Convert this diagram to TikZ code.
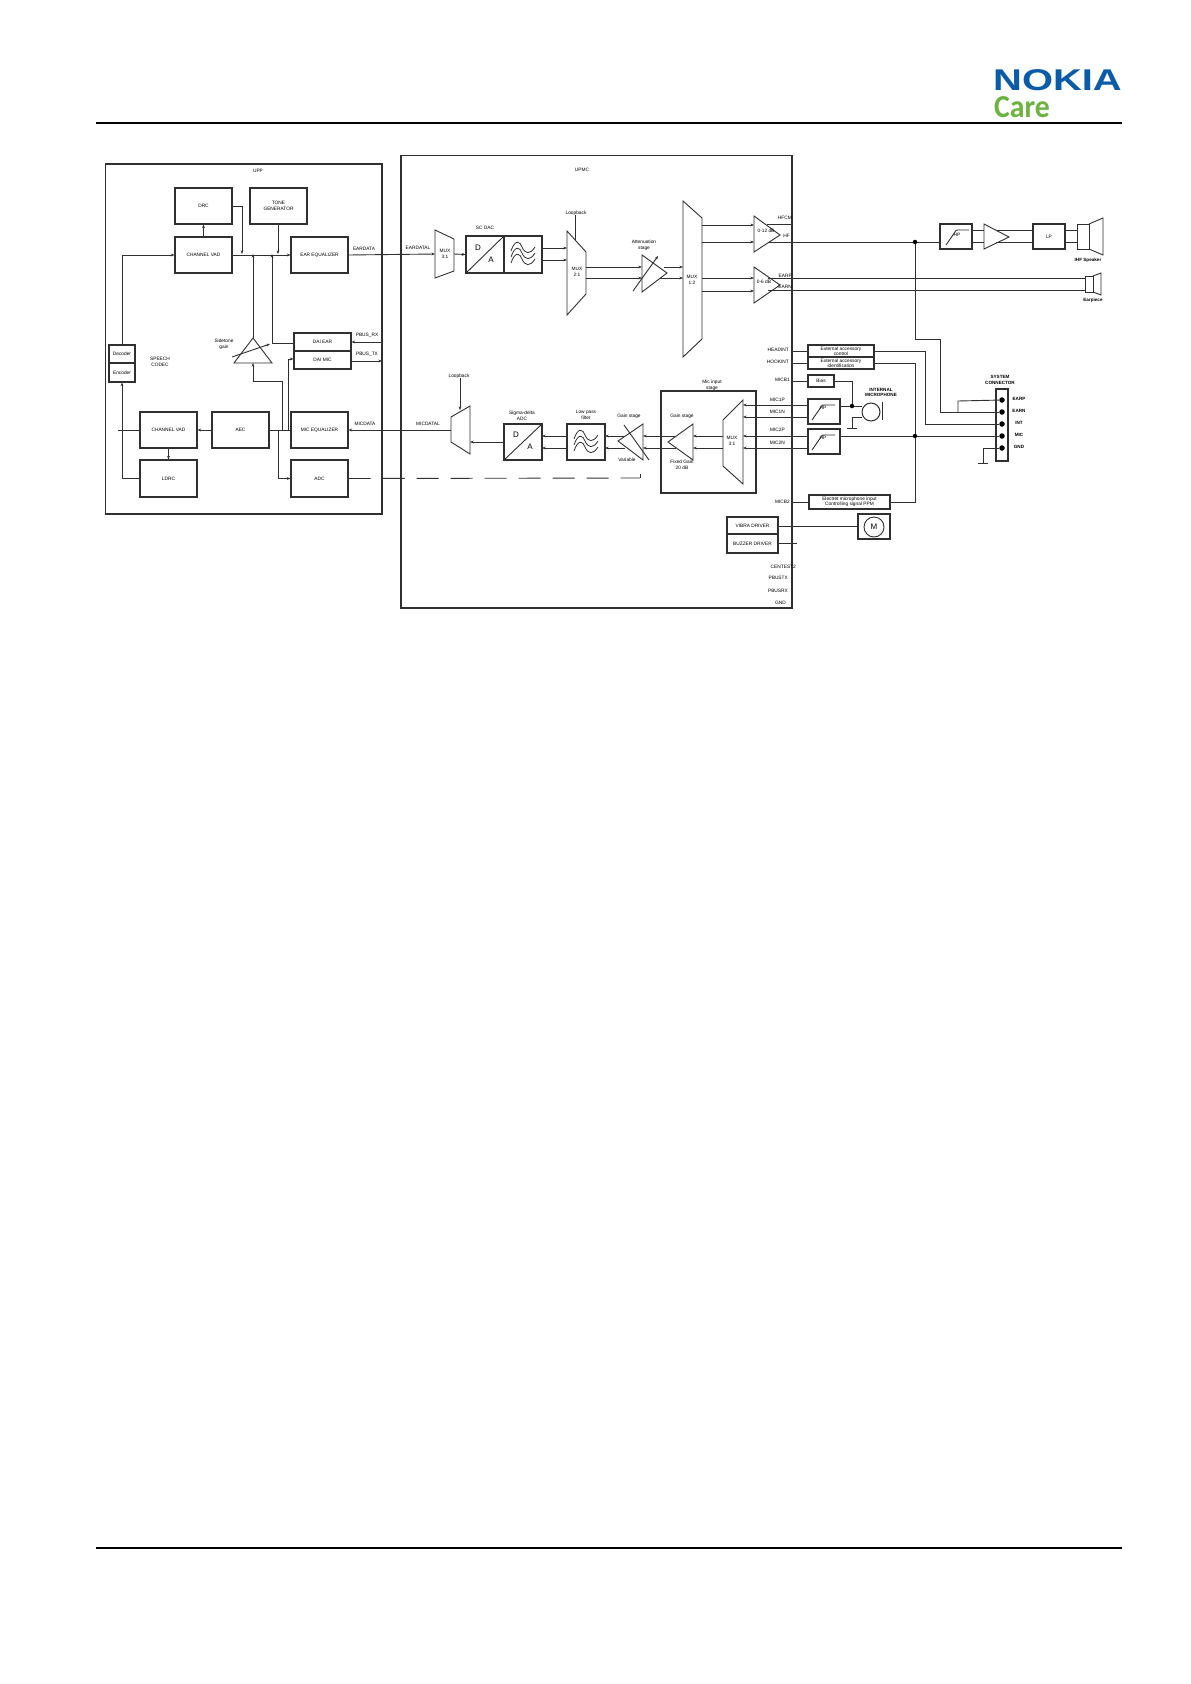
\documentclass[tikz,border=0pt]{standalone}
\usepackage{fontspec}
\setmainfont{Liberation Sans}
\newfontfamily\carefont{Carlito}[FakeStretch=0.93]
\newfontfamily\nokfont{Liberation Sans}[FakeStretch=1.33]
\usetikzlibrary{arrows.meta,calc}
\definecolor{nokiablue}{HTML}{0B5CA8}
\definecolor{caregreen}{HTML}{6DB33F}
\definecolor{ln}{HTML}{303030}
\tikzset{
  blk/.style={draw=ln,line width=1.1pt,inner sep=0pt,align=center,font=\fontsize{4.8}{5.6}\selectfont},
  shp/.style={draw=ln,line width=0.9pt},
  wire/.style={draw=ln,line width=0.9pt},
  arr/.style={wire,-{Stealth[length=3.6pt,width=2.8pt]}},
  lbl/.style={inner sep=0pt,align=center,font=\fontsize{4.8}{5.6}\selectfont},
  blbl/.style={inner sep=0pt,align=center,font=\fontsize{4.6}{5.6}\selectfont\bfseries},
  dot/.style={circle,fill=black,inner sep=0pt,minimum size=4.5pt},
  pdot/.style={circle,fill=black,inner sep=0pt,minimum size=5.5pt}
}
\newcommand\mybox[6]{%
  \pgfmathsetmacro\cxx{(#2+#4)/2}\pgfmathsetmacro\cyy{(#3+#5)/2}%
  \pgfmathsetmacro\wdd{#4-#2}\pgfmathsetmacro\htt{#5-#3}%
  \node[blk,minimum width=\wdd pt,minimum height=\htt pt] (#1) at (\cxx,\cyy) {#6};}
\newcommand\waves[2]{%
  \foreach \dy in {-6,0,6}{
    \draw[shp,line width=0.8pt] (#1-12,#2+\dy+3) .. controls (#1-8,#2+\dy-9) and (#1-3,#2+\dy-7) .. (#1-1,#2+\dy-1)
      .. controls (#1+2,#2+\dy+6) and (#1+7,#2+\dy+7) .. (#1+12,#2+\dy-1);}}
\newcommand\hpcurve[2]{%
  \draw[shp] (#1+3,#2+22) -- (#1+12,#2+9) .. controls (#1+13,#2+7) .. (#1+15,#2+7) -- (#1+26,#2+7);}
\begin{document}
\begin{tikzpicture}[x=1pt,y=-1pt]
\useasboundingbox (0,0) rectangle (1191,1684);
\fill[white] (0,0) rectangle (1191,1684);

% header / footer
\coordinate (hl) at (96,123); \coordinate (hr) at (1122,123);
\coordinate (fl) at (96,1548); \coordinate (fr) at (1122,1548);
\draw[black,line width=1.4pt] (hl) -- (hr);
\draw[black,line width=1.4pt] (fl) -- (fr);
\node[inner sep=0pt,anchor=west,text=nokiablue,font=\nokfont\fontsize{30}{30}\selectfont\bfseries] (nokia) at (993,80.5) {NOKIA};
\node[inner sep=0pt,anchor=west,text=caregreen,font=\carefont\fontsize{32}{32}\selectfont\bfseries] (care) at (994,107) {Care};

% ---------- frames
\mybox{upp}{105.5}{164}{382}{514}{}
\mybox{upmc}{401}{155.5}{792}{608}{}
\node[lbl] (upplbl) at (258,171) {UPP};
\node[lbl] (upmclbl) at (582,170) {UPMC};

% ---------- UPP blocks
\mybox{crc}{175}{188}{232}{224}{DRC}
\mybox{tone}{250}{188}{307}{224}{TONE\\GENERATOR}
\mybox{vadt}{175}{237}{232}{273}{CHANNEL VAD}
\mybox{eareq}{291}{237}{348}{273}{EAR EQUALIZER}
\mybox{daiear}{294}{333}{351}{351}{DAI EAR}
\mybox{daimic}{294}{351}{351}{369}{DAI MIC}
\mybox{dec}{109}{345}{135}{363}{Decoder}
\mybox{enc}{109}{363}{135}{382}{Encoder}
\node[lbl] (codec) at (160,362) {SPEECH\\CODEC};
\node[lbl] (stg) at (224,344) {Sidetone\\gain};
\mybox{vadb}{140}{412}{197}{448}{CHANNEL VAD}
\mybox{aec}{212}{412}{269}{448}{AEC}
\mybox{miceq}{291}{412}{348}{448}{MIC EQUALIZER}
\mybox{ldrc}{140}{460}{197}{497}{LDRC}
\mybox{adc}{291}{460}{348}{497}{ADC}

% sidetone triangle
\coordinate (sttop) at (253,338); \coordinate (stbot) at (253,363);
\draw[shp] (sttop) -- (272,363) -- (234,363) -- cycle;
\draw[arr] (232,357) -- (270,344);

% UPP wiring
\coordinate (bus1) at (242,254); \coordinate (bus2) at (253,254);
\coordinate (bus3) at (272,254); \coordinate (bus4) at (278,254);
\draw[arr] (dec.north) |- (vadt.west);
\draw[arr] (vadt.east) -- (eareq.west);
\draw[arr] (vadt.north) -- (crc.south);
\draw[arr] (crc.east) -| (bus1);
\draw[arr] (tone.south -| bus4) -- (bus4);
\draw[arr] (sttop) -- (bus2);
\draw[arr] ([yshift=-1pt]daiear.west) -| (bus3);
\coordinate (j1) at (282,430); \coordinate (j2) at (288,430); \coordinate (j3) at (278,430);
\draw[arr] (j1) |- (253,381) -- (stbot);
\draw[arr] (j2) |- ([yshift=1pt]daimic.west);
\draw[arr] (j3) |- (adc.west);
\draw[wire] (miceq.west) -- (aec.east);
\draw[arr] (aec.west) -- (vadb.east);
\draw[wire] (vadb.west) -- (118,430);
\draw[arr] (ldrc.west) -| (enc.south);
\draw[arr] (vadb.south) -- (ldrc.north);
\node[lbl] (pbrx) at (367,335) {PBUS\_RX};
\node[lbl] (pbtx) at (367,354) {PBUS\_TX};
\coordinate (pr) at (382,342); \coordinate (pt) at (382,361);
\draw[arr] (pr) -- (pr -| daiear.east);
\draw[arr] (pt -| daimic.east) -- (pt);

% EAR data and MIC data
\node[lbl] (eardata) at (364,249) {EARDATA};
\node[lbl] (eardatal) at (418,248) {EARDATAL};
\node[lbl] (micdata) at (365,424) {MICDATA};
\node[lbl] (micdatal) at (428,424) {MICDATAL};

% ---------- UPMC downlink
\coordinate (mux1in) at (435,254); \coordinate (mux1out) at (454,254);
\draw[shp] (435,230) -- (454,239) -- (454,271) -- (435,278) -- cycle;
\node[lbl] (mux1) at (445,254) {MUX\\3:1};
\draw[arr] (eareq.east) -- (mux1in);
\mybox{dac}{466}{236}{504}{273}{}
\mybox{filt1}{504}{236}{542}{273}{}
\draw[shp] (dac.south west) -- (dac.north east);
\node[inner sep=0pt,font=\fontsize{8}{8}\selectfont] (d1) at (478,248) {D};
\node[inner sep=0pt,font=\fontsize{8}{8}\selectfont] (a1) at (491,260) {A};
\waves{523}{254}
\node[lbl] (scdac) at (485,228) {SC DAC};
\draw[arr] (mux1out) -- (dac.west);
\coordinate (m2a) at (567,248); \coordinate (m2b) at (567,260);
\draw[shp] (567,231) -- (586,252) -- (586,294) -- (567,315) -- cycle;
\node[lbl] (mux2) at (577,272) {MUX\\2:1};
\draw[arr] (filt1.east |- m2a) -- (m2a);
\draw[arr] (filt1.east |- m2b) -- (m2b);
\node[lbl] (lb1) at (576,213) {Loopback};
\coordinate (lb1in) at (575,240);
\draw[wire] (lb1.south -| lb1in) -- (lb1in);
\coordinate (t1a) at (642,267); \coordinate (t1b) at (642,278);
\coordinate (m2o1) at (586,267); \coordinate (m2o2) at (586,278);
\draw[arr] (m2o1) -- (t1a);
\draw[arr] (m2o2) -- (t1b);
\draw[shp] (642,255) -- (667,273) -- (642,292) -- cycle;
\draw[arr] (633,291) -- (658,256);
\node[lbl] (att) at (644,245) {Attenuation\\stage};
\coordinate (m3a) at (683,267); \coordinate (m3b) at (683,278);
\draw[arr] (664,267) -- (m3a);
\draw[arr] (660,278) -- (m3b);
\draw[shp] (683,201) -- (702,218) -- (702,339) -- (683,357) -- cycle;
\node[lbl] (mux3) at (692,280) {MUX\\1:2};
\coordinate (a1a) at (754,225); \coordinate (a1b) at (754,242);
\coordinate (a2a) at (754,278); \coordinate (a2b) at (754,291);
\foreach \c in {a1a,a1b,a2a,a2b}{\draw[arr] (\c -| 702,0) -- (\c);}
\draw[shp] (754,216) -- (780,235) -- (754,252) -- cycle;
\draw[shp] (754,267) -- (780,285) -- (754,303) -- cycle;
\node[lbl] (g1) at (766,231) {0-12 dB};
\node[lbl] (g2) at (764,282) {0-6 dB};
\node[lbl,anchor=east] (hfcm) at (792,218) {HFCM};
\node[lbl,anchor=east] (hf) at (790,236) {HF};
\node[lbl,anchor=east] (earp) at (792,276) {EARP};
\node[lbl,anchor=east] (earn) at (792,287) {EARN};
\coordinate (hfcma) at (767,224); \coordinate (hfcmb) at (792,224);
\draw[wire] (hfcma) -- (hfcmb);

% outputs to speakers
\mybox{hp1}{940}{224}{972}{249}{}
\mybox{amp3l}{1033}{224}{1065}{249}{LP}
\hpcurve{943}{223}
\node[lbl] (hplbl) at (957,235) {HP};
\coordinate (hf0) at (768,242); \coordinate (jhf) at (915,242);
\draw[wire] (hf0) -- (hp1.west |- hf0);
\node[dot] (jhfd) at (jhf) {};
\coordinate (amp3in1) at (984,230); \coordinate (amp3in2) at (984,242);
\draw[wire] (972,230) -- (amp3in1);
\draw[wire] (972,242) -- (amp3in2);
\draw[shp] (984,224) -- (1009,237) -- (984,249) -- cycle;
\coordinate (lpin1) at (1033,230); \coordinate (lpin2) at (1033,242);
\draw[wire] (996,230) -- (lpin1);
\draw[wire] (996,242) -- (lpin2);
\draw[shp] (1077,224) rectangle (1089,249);
\draw[shp] (1089,224) -- (1103,218) -- (1103,255) -- (1089,249);
\draw[wire] (1065,230) -- (1077,230);
\draw[wire] (1065,242) -- (1077,242);
\node[blbl] (ihf) at (1088,260) {IHF Speaker};
\draw[shp] (1085,276) rectangle (1093,292);
\draw[shp] (1093,276) -- (1101,273) -- (1101,295) -- (1093,292);
\coordinate (eo1) at (768,278); \coordinate (eo2) at (768,290);
\draw[wire] (eo1) -- (1085,278);
\draw[wire] (eo2) -- (1085,290);
\node[blbl] (earpc) at (1093,300) {Earpiece};

% ---------- UPMC uplink
\coordinate (mbl) at (451,430);
\draw[shp] (470,406) -- (451,417) -- (451,442) -- (470,454) -- cycle;
\draw[arr] (mbl) -- (miceq.east);
\node[lbl] (lb2) at (459,376) {Loopback};
\coordinate (lb2in) at (460,410);
\draw[arr] (lb2.south -| lb2in) -- (lb2in);
\mybox{adcb}{504}{424}{542}{460}{}
\draw[shp] (adcb.south west) -- (adcb.north east);
\node[inner sep=0pt,font=\fontsize{8}{8}\selectfont] (d2) at (516,435) {D};
\node[inner sep=0pt,font=\fontsize{8}{8}\selectfont] (a2) at (530,447) {A};
\node[lbl] (sdl) at (522,416) {Sigma-delta\\ADC};
\draw[arr] (504,442) -- (470,442);
\mybox{filt2}{567}{424}{605}{460}{}
\waves{586}{442}
\node[lbl] (lpl) at (586,415) {Low pass\\filter};
\draw[arr] (filt2.west |- 0,436) -- (542,436);
\draw[arr] (filt2.west |- 0,448) -- (542,448);
\draw[shp] (643,424) -- (618,441) -- (643,460) -- cycle;
\draw[shp] (624,425) -- (649,460);
\node[lbl] (gs1) at (629,416) {Gain stage};
\node[lbl] (varl) at (627,460) {Variable};
\draw[arr] (625,436) -- (605,436);
\draw[arr] (625,448) -- (605,448);
\mybox{micst}{661}{391}{756}{493}{}
\node[lbl] (msl) at (712,385) {Mic input\\stage};
\node[lbl] (gs2) at (682,416) {Gain stage};
\node[lbl] (fxl) at (682,465) {Fixed Gain\\20 dB};
\draw[shp] (693,424) -- (668,442) -- (693,460) -- cycle;
\draw[arr] (676,436) -- (643,436);
\draw[arr] (676,448) -- (643,448);
\draw[shp] (743,400) -- (723,420) -- (723,466) -- (743,484) -- cycle;
\node[lbl] (mux4) at (732,441) {MUX\\3:1};
\draw[arr] (723,436) -- (693,436);
\draw[arr] (723,448) -- (693,448);
% dashed
\coordinate (dash1) at (640,478); \coordinate (dash2) at (640,474);
\draw[wire,dash pattern=on 22pt off 12pt] (adc.east) -- (dash1);
\draw[wire] (dash1) -- (dash2);

% right-hand column
\mybox{acc1}{808}{345}{874}{357}{External accessory\\[-1pt]control}
\mybox{acc2}{808}{357}{874}{369}{External accessory\\[-1pt]identification}
\mybox{bias}{808}{375}{834}{387}{Bias}
\mybox{amp1}{808}{399}{840}{424}{}
\mybox{amp2}{808}{429}{840}{454}{}
\hpcurve{809}{398}
\hpcurve{809}{428}
\node[lbl] (hpa) at (823,408) {HP};
\node[lbl] (hpb) at (823,438) {HP};
\mybox{ext}{809}{495}{890}{509}{Electret microphone input\\[-1pt]Controlling signal PPM}
\mybox{vib}{727}{517}{778}{534}{VIBRA DRIVER}
\mybox{buz}{727}{534}{778}{553}{BUZZER DRIVER}
\mybox{motbx}{858}{514}{890}{539}{}
\node[draw=ln,circle,line width=0.9pt,minimum size=20pt,inner sep=0pt,font=\fontsize{8}{8}\selectfont] (mot) at (874,527) {M};
\node[lbl,anchor=east] (hdl) at (789,350) {HEADINT};
\node[lbl,anchor=east] (hkl) at (789,362) {HOOKINT};
\node[lbl,anchor=east] (mb1) at (790,380) {MICB1};
\node[lbl,anchor=east] (mb2) at (790,502) {MICB2};
\node[lbl,anchor=east] (m1p) at (785,400) {MIC1P};
\node[lbl,anchor=east] (m1n) at (785,412) {MIC1N};
\node[lbl,anchor=east] (m2p) at (785,430) {MIC2P};
\node[lbl,anchor=east] (m2n) at (785,443) {MIC2N};
\node[lbl,anchor=east] (cent) at (796,567) {CENTEST2};
\node[lbl,anchor=east] (ptxl) at (788,578) {PBUSTX};
\node[lbl,anchor=east] (prxl) at (788,591) {PBUSRX};
\node[lbl,anchor=east] (gndl) at (786,603) {GND};

\coordinate (edge1) at (792,351); \coordinate (edge2) at (792,363);
\coordinate (edge3) at (792,381); \coordinate (edge4) at (792,502);
\draw[wire] (edge1) -- (edge1 -| acc1.west);
\draw[wire] (edge2) -- (edge2 -| acc2.west);
\draw[wire] (edge3) -- (edge3 -| bias.west);
\draw[wire] (edge4) -- (ext.west);
\coordinate (mxa) at (743,405); \coordinate (mxb) at (743,417);
\coordinate (mxc) at (743,436); \coordinate (mxd) at (743,448);
\foreach \c in {mxa,mxb}{\draw[arr] (\c -| amp1.west) -- (\c);}
\foreach \c in {mxc,mxd}{\draw[arr] (\c -| amp2.west) -- (\c);}
\draw[wire] (vib.east |- 0,526) -- (motbx.west |- 0,526);
\coordinate (bz) at (797,543);
\draw[wire] (buz.east |- bz) -- (bz);

% internal microphone
\node[draw=ln,circle,line width=1pt,minimum size=18pt,inner sep=0pt] (mic) at (871,412) {};
\draw[shp,line width=1pt] (882,402) -- (882,420);
\node[blbl] (iml) at (881,392.5) {INTERNAL\\MICROPHONE};
\node[dot] (jbias) at (852,406) {};
\draw[wire] (bias.east) -| (jbias);
\draw[wire] (amp1.east |- jbias) -- (jbias) -- (mic.west |- jbias);
\coordinate (micg) at (862,417); \coordinate (gnd1) at (852,428);
\draw[wire] (micg) -- (852,417) -- (gnd1);
\draw[wire] (847,428) -- (857,428);

% system connector
\mybox{conn}{996}{389}{1008}{461}{}
\node[blbl] (syscon) at (1000,380) {SYSTEM\\CONNECTOR};
\node[pdot] (p1) at (1002,400) {};
\node[pdot] (p2) at (1002,412) {};
\node[pdot] (p3) at (1002,424) {};
\node[pdot] (p4) at (1002,436) {};
\node[pdot] (p5) at (1002,448) {};
\node[blbl] (c1) at (1019,399) {EARP};
\node[blbl] (c2) at (1019,411) {EARN};
\node[blbl] (c3) at (1019,423) {INT};
\node[blbl] (c4) at (1019,435) {MIC};
\node[blbl] (c5) at (1019,447) {GND};
\draw[wire] (jhfd) -- (915,339) -- (940,339) -- (940,412) -- (p2);
\draw[wire] (958,412) -- (958,401) -- (p1);
\coordinate (a1e) at (874,351);
\draw[wire] (a1e) -- (925,351) -- (925,424) -- (p3);
\node[dot] (jmic) at (915,436) {};
\draw[wire] (amp2.east |- jmic) -- (jmic) -- (p4);
\draw[wire] (acc2.east) -- (915,363) -- (jmic);
\draw[wire] (jmic) -- (915,502) -- (ext.east);
\coordinate (cg) at (983,463);
\draw[wire] (p5) -- (983,448) -- (cg);
\draw[wire] (978,463) -- (988,463);
\end{tikzpicture}
\end{document}
